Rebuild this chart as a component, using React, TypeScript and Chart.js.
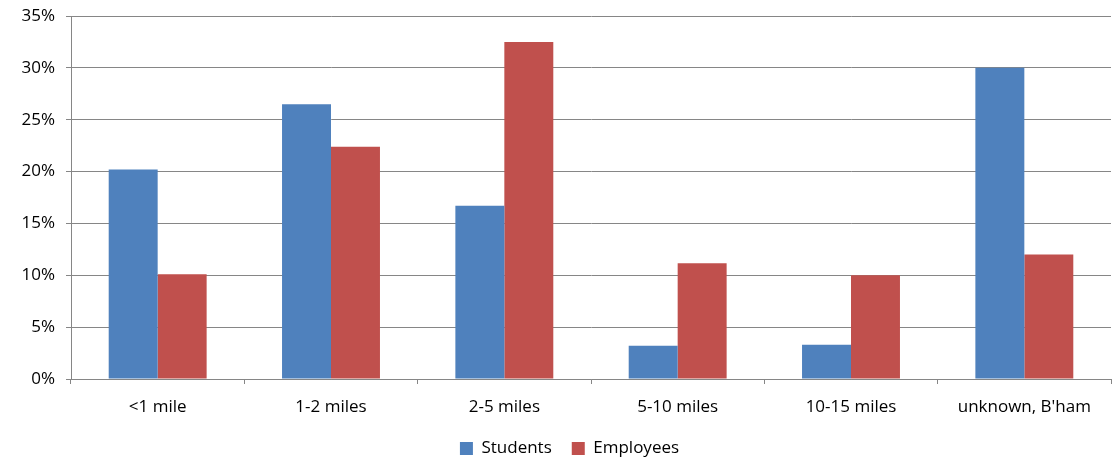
import React, { useEffect, useRef } from "react";
import { Chart, registerables } from "chart.js";

Chart.register(...registerables);

const categories = ["<1 mile", "1-2 miles", "2-5 miles", "5-10 miles", "10-15 miles", "unknown, B'ham"];
const students = [20.2, 26.5, 16.7, 3.2, 3.3, 30.0];
const employees = [10.1, 22.4, 32.5, 11.15, 10.0, 12.0];
const yTicks = [0, 5, 10, 15, 20, 25, 30, 35];

const FONT = "'Open Sans', 'Liberation Sans', sans-serif";

const shiftLegend = {
  id: "shiftLegend",
  afterLayout(chart: any) {
    if (chart.legend) {
      chart.legend.left += 14;
      chart.legend.right += 14;
    }
  },
};

export default function App() {
  const ref = useRef<HTMLCanvasElement | null>(null);
  useEffect(() => {
    document.body.style.margin = "0";
    const ctx = ref.current!;
    const chart = new Chart(ctx, {
      type: "bar",
      data: {
        labels: categories,
        datasets: [
          { label: "Students", data: students, backgroundColor: "#4F81BD", borderColor: "#4F81BD", borderWidth: 0 },
          { label: "Employees", data: employees, backgroundColor: "#C0504D", borderColor: "#C0504D", borderWidth: 0 },
        ],
      },
      plugins: [shiftLegend],
      options: {
        animation: false,
        responsive: false,
        maintainAspectRatio: false,
        layout: { padding: { top: 16, right: 8, left: 0, bottom: -8 } },
        datasets: { bar: { categoryPercentage: 0.565, barPercentage: 1 } },
        plugins: {
          tooltip: { enabled: false },
          legend: {
            position: "bottom",
            labels: {
              boxWidth: 13,
              boxHeight: 13,
              color: "#000",
              font: { family: FONT, size: 17 },
              padding: 20,
            },
          },
        },
        scales: {
          x: {
            grid: { drawOnChartArea: false, drawTicks: true, tickLength: 5, color: "#868686", offset: true },
            border: { color: "#868686", width: 1 },
            ticks: { color: "#000", font: { family: FONT, size: 17 }, padding: 13, maxRotation: 0 },
            afterFit: (s: any) => { s.height = 41; },
          },
          y: {
            min: 0,
            max: 35,
            afterBuildTicks: (s: any) => { s.ticks = yTicks.map((v) => ({ value: v })); },
            grid: { color: "#868686", tickLength: 5, drawTicks: true },
            border: { color: "#868686", width: 1 },
            ticks: {
              color: "#000",
              font: { family: FONT, size: 17 },
              padding: 11,
              callback: (v: any) => v + "%",
            },
            afterFit: (s: any) => { s.width = 71; s.paddingTop = 0; s.paddingBottom = 0; },
          },
        },
      },
    } as any);
    return () => chart.destroy();
  }, []);
  return (
    <div style={{ width: 1119, height: 459 }}>
      <canvas ref={ref} width={1119} height={459} style={{ width: 1119, height: 459, display: "block" }} />
    </div>
  );
}
